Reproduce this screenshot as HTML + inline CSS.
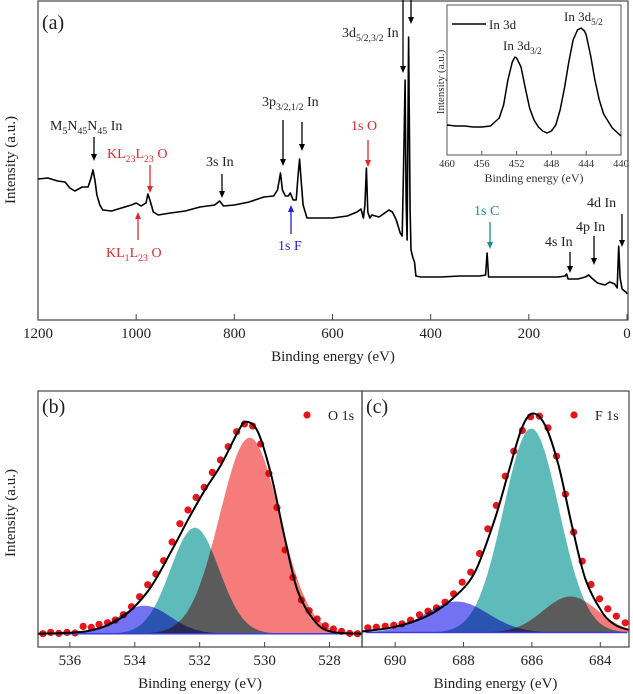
<!DOCTYPE html>
<html><head><meta charset="utf-8">
<style>
html,body{margin:0;padding:0;background:#fff;}
svg{display:block;font-family:"Liberation Serif",serif;}
.mul{mix-blend-mode:multiply;}
</style></head>
<body>
<svg id="fig" width="633" height="694" viewBox="0 0 633 694" xmlns="http://www.w3.org/2000/svg">
<g id="pa"></g>
<g id="pins"></g>
<g id="pb"></g>
<g id="pc"></g>
</svg>
<script>
// ---- Survey data (binding energy eV, intensity a.u.) ----
const surveyBE = [1200,1180,1160,1145,1135,1125,1110,1098,1092,1088,1084,1080,1074,1068,1050,1030,1010,1000,990,980,976,972,965,955,930,900,870,840,830,822,800,770,740,720,712,706,702,696,690,686,680,674,670,667,664,660,652,630,600,570,550,542,537,534,531,528,524,520,505,485,478,470,462,458,455,452,450,448,445,442,440,436,433,430,420,380,340,300,288,285,282,260,220,180,140,126,123,120,100,85,78,72,60,45,35,25,20,17,14,10,5,2,0];
const surveyI = [141,142,139,138,132,129,133,133,142,150,140,125,115,110,109,112,115,117,114,117,126,120,108,105,107,109,113,115,119,114,115,118,123,124,130,147,130,124,124,127,120,120,145,161,140,115,102,102,102,104,108,111,102,115,152,108,102,105,103,110,108,100,87,84,160,240,120,80,283,110,70,62,58,44,43,43,44,44,45,67,43,43,43,43,43,44,46,41,41,43,45,42,37,35,38,36,32,74,42,31,29,28,26];
const surveyTicks = [1200,1000,800,600,400,200,0];
// ---- Inset In 3d ----
const insetBE = [460,459,458,457,456,455,454,453.5,453,452.5,452.2,452,451.5,451,450.5,450,449.5,449,448.5,448,447.5,447,446.5,446,445.5,445,444.6,444.2,444,443.5,443,442.5,442,441,440];
const insetI = [30,29,29,28,28,29,37,50,75,93,98,97,88,67,47,35,28,24,22,24,30,45,67,93,115,125,127,124,120,100,75,55,41,27,19];
const insetTicks = [460,456,452,448,444,440];
// ---- O 1s ----
const o1sBE = [536.83,536.59,536.34,536.09,535.84,535.59,535.34,535.10,534.84,534.60,534.35,534.10,533.85,533.60,533.35,533.11,532.85,532.61,532.36,532.11,531.86,531.61,531.36,531.12,530.86,530.62,530.37,530.12,529.87,529.62,529.37,529.13,528.87,528.63,528.38,528.13,527.88,527.63,527.38,527.14];
const o1sI = [0,1.3,0.3,1.3,0.7,7.3,6.3,9.3,11,13.7,19,27,37,49,59.7,73,91.7,110,123.7,136.3,146.3,161.3,173.7,187,202,209.7,207.7,189.7,160.3,126.3,83.7,56.3,33.7,23,14.7,8,4.7,2.3,0.3,0];
const o1sFitBE = [536.98,535.44,534.41,533.59,532.87,532.36,531.85,531.34,530.82,530.57,530.21,529.80,529.38,528.98,528.46,527.95,527.0];
const o1sFitI = [0,2.7,16,42.7,82.7,114,143,169,202,212,202,159,96,42.7,12.7,2,0];
const o1sCenters = [533.7,532.15,530.46];
const o1sHeights = [28,106,196];
const o1sSigmas = [0.8,0.75,0.92];
const o1sTicks = [536,534,532,530,528];
// ---- F 1s ----
const f1sBE = [690.80,690.55,690.29,690.04,689.80,689.55,689.29,689.04,688.79,688.54,688.29,688.04,687.79,687.53,687.29,687.04,686.78,686.53,686.28,686.04,685.78,685.53,685.28,685.02,684.78,684.53,684.27,684.02,683.78,683.53,683.27];
const f1sI = [4.7,5.3,6.3,7.3,8.7,12.3,17.7,21.3,24.7,30.3,38.7,50.3,60.3,79,103.7,127,156.3,181.3,202,215.7,216.3,204.7,176.3,138.3,100.3,71.3,48,33.7,23.7,16.3,9.7];
const f1sFitBE = [690.97,690.0,689.02,688.25,687.66,687.08,686.68,686.30,685.98,685.61,685.22,684.83,684.44,683.96,683.57,683.18];
const f1sFitI = [1,5.7,17.3,36,61,114,161,204,219,207,167,107,54,21,7.7,2.7];
const f1sCenters = [688.2,686.02,684.87];
const f1sHeights = [31,204,36];
const f1sSigmas = [0.92,0.81,0.8];
const f1sTicks = [690,688,686,684];

const NS="http://www.w3.org/2000/svg";
function mk(parent,tag,attrs,txt){const e=document.createElementNS(NS,tag);for(const k in attrs)e.setAttribute(k,attrs[k]);if(txt!==undefined)e.textContent=txt;parent.appendChild(e);return e;}
function lin(d0,d1,r0,r1){return v=>r0+(v-d0)/(d1-d0)*(r1-r0);}

// ===== Panel A =====
const pa=document.getElementById('pa');
const ax=lin(1200,0,38,627), ay=lin(0,320,320,0);
let r=mk(pa,'rect',{x:38,y:1,width:590,height:319,fill:'none',stroke:'#444','stroke-width':1.2});

surveyTicks.forEach(t=>{
  const l=mk(pa,'line',{x1:ax(t),x2:ax(t),y1:320,y2:314,stroke:'#444'});
  
  const tx=mk(pa,'text',{x:ax(t),y:338,'font-size':15,'text-anchor':'middle',fill:'#222'},t);
  
});
let d='';surveyBE.forEach((b,i)=>{d+=(i?'L':'M')+ax(b).toFixed(1)+','+ay(surveyI[i]).toFixed(1);});
let p=mk(pa,'path',{d:d,fill:'none',stroke:'#000','stroke-width':1.6,'stroke-linejoin':'round'});

let t=mk(pa,'text',{x:333,y:361,'font-size':15,'text-anchor':'middle',fill:'#222'},'Binding energy (eV)');

t=mk(pa,'text',{x:0,y:0,'font-size':15,'text-anchor':'middle',fill:'#222',transform:'translate(15,160) rotate(-90)'},'Intensity (a.u.)');

t=mk(pa,'text',{x:42,y:29,'font-size':20,fill:'#222'},'(a)');


function arrow(g,x,y1,y2,col,name){
  const up=y2<y1;const a=mk(g,'g',{});
  
  mk(a,'line',{x1:x,x2:x,y1:y1,y2:up?y2+6:y2-6,stroke:col,'stroke-width':1.3});
  mk(a,'path',{d:up?`M${x-3},${y2+7}L${x},${y2}L${x+3},${y2+7}Z`:`M${x-3},${y2-7}L${x},${y2}L${x+3},${y2-7}Z`,fill:col});
}
function label(g,x,y,parts,col,name,fs){
  fs=fs||14;const e=mk(g,'text',{x:x,y:y,'font-size':fs,fill:col});
  
  let prevSub=false;
  parts.forEach(pp=>{const isSub=pp[1]==='sub';
    const at=isSub?{'font-size':fs*0.7,dy:prevSub?0:4}:{dy:prevSub?-4:0};
    mk(e,'tspan',at,pp[0]);prevSub=isSub;});
  return e;
}
const RED='#e0282e',BLUE='#1f1fd6',TEAL='#15908f',BLK='#222';
label(pa,342,37,[['3d'],['5/2,3/2','sub'],[' In']],BLK,'label-3d');
arrow(pa,403,0,73,'#000','arrow-3d-32');arrow(pa,411,0,24,'#000','arrow-3d-52');
label(pa,50,130,[['M'],['5','sub'],['N'],['45','sub'],['N'],['45','sub'],[' In']],BLK,'label-mnn');
arrow(pa,94,137,161,'#000','arrow-mnn');
label(pa,107,158,[['KL'],['23','sub'],['L'],['23','sub'],[' O']],RED,'label-kll-o');
arrow(pa,150,165,193,RED,'arrow-kll-o');
label(pa,106,257,[['KL'],['1','sub'],['L'],['23','sub'],[' O']],RED,'label-kl1l23-o');
arrow(pa,138,240,212,RED,'arrow-kl1l23-o');
label(pa,206,166,[['3s In']],BLK,'label-3s');
arrow(pa,222,174,198,'#000','arrow-3s');
label(pa,262,106,[['3p'],['3/2,1/2','sub'],[' In']],BLK,'label-3p');
arrow(pa,283,120,166,'#000','arrow-3p32');arrow(pa,302,122,151,'#000','arrow-3p12');
label(pa,278,250,[['1s F']],BLUE,'label-1s-f');
arrow(pa,291,234,205,BLUE,'arrow-1s-f');
label(pa,351,130,[['1s O']],RED,'label-1s-o');
arrow(pa,368,140,167,RED,'arrow-1s-o');
label(pa,474,215,[['1s C']],TEAL,'label-1s-c');
arrow(pa,490,222,249,TEAL,'arrow-1s-c');
label(pa,545,246,[['4s In']],BLK,'label-4s');
arrow(pa,570,252,273,'#000','arrow-4s');
label(pa,576,231,[['4p In']],BLK,'label-4p');
arrow(pa,594,236,265,'#000','arrow-4p');
label(pa,587,207,[['4d In']],BLK,'label-4d');
arrow(pa,622,214,247,'#000','arrow-4d');

// ===== Inset =====
const pi=document.getElementById('pins');
const ix=lin(460,440,447,621), iy=lin(0,150,155,5);
r=mk(pi,'rect',{x:447,y:5,width:174,height:150,fill:'#fff',stroke:'#555','stroke-width':1});

insetTicks.forEach(v=>{
  const l=mk(pi,'line',{x1:ix(v),x2:ix(v),y1:155,y2:151,stroke:'#555'});
  
  const tx=mk(pi,'text',{x:ix(v),y:167,'font-size':10.5,'text-anchor':'middle',fill:'#333'},v);
  
});
d='';insetBE.forEach((b,i)=>{d+=(i?'L':'M')+ix(b).toFixed(1)+','+iy(insetI[i]).toFixed(1);});
p=mk(pi,'path',{d:d,fill:'none',stroke:'#000','stroke-width':1.5,'stroke-linejoin':'round'});

t=mk(pi,'text',{x:534,y:182,'font-size':12,'text-anchor':'middle',fill:'#333'},'Binding energy (eV)');

t=mk(pi,'text',{x:0,y:0,'font-size':11,'text-anchor':'middle',fill:'#333',transform:'translate(444,82) rotate(-90)'},'Intensity (a.u.)');

const lg=mk(pi,'g',{});
mk(lg,'line',{x1:452,x2:486,y1:24,y2:24,stroke:'#000','stroke-width':1.5});
mk(lg,'text',{x:489,y:29,'font-size':13,fill:'#222'},'In 3d');
label(pi,503,50,[['In 3d'],['3/2','sub']],BLK,'label-in3d32',13);
label(pi,564,21,[['In 3d'],['5/2','sub']],BLK,'label-in3d52',13);

// ===== Bottom panels =====
function gauss(x,c,h,s){return h*Math.exp(-(x-c)*(x-c)/(2*s*s));}
const FILLS=['#7272f2','#5fbaba','#f67c7c']; // blue, teal, red
const FNAMES=['blue','teal','red'];
function smoothPath(pts){
  let s=`M${pts[0][0].toFixed(1)},${pts[0][1].toFixed(1)}`;
  for(let i=0;i<pts.length-1;i++){
    const p0=pts[Math.max(0,i-1)],p1=pts[i],p2=pts[i+1],p3=pts[Math.min(pts.length-1,i+2)];
    const c1=[p1[0]+(p2[0]-p0[0])/6,p1[1]+(p2[1]-p0[1])/6],c2=[p2[0]-(p3[0]-p1[0])/6,p2[1]-(p3[1]-p1[1])/6];
    s+=`C${c1[0].toFixed(1)},${c1[1].toFixed(1)} ${c2[0].toFixed(1)},${c2[1].toFixed(1)} ${p2[0].toFixed(1)},${p2[1].toFixed(1)}`;
  }
  return s;
}
function bottomPanel(g,x0,x1,e0,e1,y0,BE,I,FBE,FI,C,H,S,ticks,tag,legend,plabel){
  const X=lin(e0,e1,x0,x1), Y=lin(0,230,y0,y0-230);
  const fr=mk(g,'rect',{x:x0,y:391,width:x1-x0,height:256,fill:'none',stroke:'#444','stroke-width':1.2});
  
  BE.forEach((b,i)=>{
    const c=mk(g,'circle',{cx:X(b),cy:Y(I[i]),r:3.6,fill:'#e8141b'});
    
  });
  const N=160;
  C.forEach((cc,k)=>{
    let dd=`M${X(e0)},${Y(0)}`;
    for(let i=0;i<=N;i++){const e=e0+(e1-e0)*i/N;dd+=`L${X(e).toFixed(1)},${Y(gauss(e,C[k],H[k],S[k])).toFixed(1)}`;}
    dd+=`L${X(e1)},${Y(0)}Z`;
    const pp=mk(g,'path',{d:dd,fill:FILLS[k],stroke:'none','class':'mul'});
    
  });
  const bl=mk(g,'line',{x1:x0+4,x2:x1-2,y1:Y(0),y2:Y(0),stroke:'#3a3ae0','stroke-width':1.5});
  
  const env=mk(g,'path',{d:smoothPath(FBE.map((b,i)=>[X(b),Y(FI[i])])),fill:'none',stroke:'#000','stroke-width':2});
  
  ticks.forEach(v=>{
    const l=mk(g,'line',{x1:X(v),x2:X(v),y1:647,y2:642,stroke:'#444'});
    
    const tx=mk(g,'text',{x:X(v),y:665,'font-size':15,'text-anchor':'middle',fill:'#222'},v);
    
  });
  const xt=mk(g,'text',{x:(x0+x1)/2,y:688,'font-size':15,'text-anchor':'middle',fill:'#222'},'Binding energy (eV)');
  
  const pl=mk(g,'text',{x:x0+4,y:413,'font-size':20,fill:'#222'},plabel);
  
  const lgg=mk(g,'g',{});
  mk(lgg,'circle',{cx:x1-55,cy:415,r:3.6,fill:'#e8141b'});
  mk(lgg,'text',{x:x1-34,y:420,'font-size':14,fill:'#222'},legend);
}
bottomPanel(document.getElementById('pb'),38,362,536.98,527.0,633.7,o1sBE,o1sI,o1sFitBE,o1sFitI,o1sCenters,o1sHeights,o1sSigmas,o1sTicks,'o1s','O 1s','(b)');
bottomPanel(document.getElementById('pc'),362,629,690.97,683.16,632.5,f1sBE,f1sI,f1sFitBE,f1sFitI,f1sCenters,f1sHeights,f1sSigmas,f1sTicks,'f1s','F 1s','(c)');
t=mk(document.getElementById('pb'),'text',{x:0,y:0,'font-size':15,'text-anchor':'middle',fill:'#222',transform:'translate(15,513) rotate(-90)'},'Intensity (a.u.)');

</script>
</body></html>
